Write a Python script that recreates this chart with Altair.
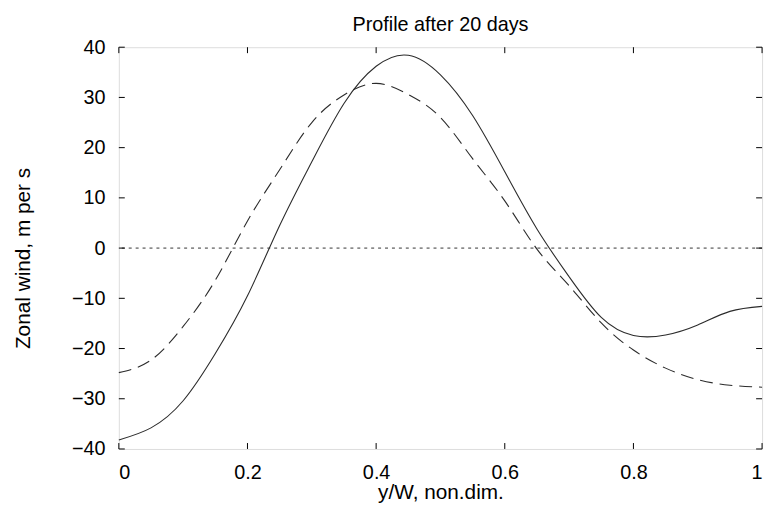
import altair as alt
import pandas as pd

# ---- data ----
x_vals = [0.0, 0.05, 0.10, 0.15, 0.20, 0.25, 0.30, 0.35, 0.40, 0.45, 0.50,
          0.55, 0.60, 0.65, 0.70, 0.75, 0.80, 0.85, 0.90, 0.95, 1.00]
wind_dashed = [-24.8, -22.3, -15.6, -6.4, 5.4, 15.6, 25.0, 30.5, 32.8, 30.6, 26.0,
               17.8, 9.4, -0.2, -7.5, -14.9, -20.3, -23.9, -26.2, -27.3, -27.7]
wind_solid = [-38.2, -35.8, -30.4, -21.0, -9.5, 4.5, 17.2, 28.8, 36.2, 38.4, 34.5,
              26.4, 15.2, 3.8, -5.7, -13.8, -17.4, -17.3, -15.3, -12.6, -11.6]
x_ticks = [0, 0.2, 0.4, 0.6, 0.8, 1.0]
y_ticks = [-40, -30, -20, -10, 0, 10, 20, 30, 40]
zero_level = [0]

FONT = "Liberation Sans"
W, H = 650, 406
TICK = 6

df_dashed = pd.DataFrame({"x": x_vals, "wind": wind_dashed})
df_solid = pd.DataFrame({"x": x_vals, "wind": wind_solid})
df_xt = pd.DataFrame({"t": x_ticks})
df_yt = pd.DataFrame({"t": y_ticks})
df_zero = pd.DataFrame({"v": zero_level})

xs = alt.Scale(domain=[0, 1], nice=False, zero=False)
ys = alt.Scale(domain=[-40, 40], nice=False, zero=False)

x_axis = alt.Axis(values=x_ticks, format="~g", ticks=False, domain=False, grid=False,
                  labelFont=FONT, labelFontSize=20, labelColor="black", labelPadding=14,
                  title="y/W, non.dim.", titleFont=FONT, titleFontSize=21,
                  titleFontWeight="normal", titleColor="black",
                  titleBaseline="alphabetic", titleY=50)
y_axis = alt.Axis(values=y_ticks, format="d", ticks=False, domain=False, grid=False,
                  labelFont=FONT, labelFontSize=20, labelColor="black", labelPadding=14,
                  title="Zonal wind, m per s", titleFont=FONT, titleFontSize=21,
                  titleFontWeight="normal", titleColor="black", titleAngle=-90,
                  titleAlign="center", titleBaseline="alphabetic",
                  titleX=-90, titleY=H / 2 + 10)

X = lambda f: alt.X(f, scale=xs, axis=x_axis)
Y = lambda f: alt.Y(f, scale=ys, axis=y_axis)

dashed = alt.Chart(df_dashed).mark_line(
    color="#2b2b2b", strokeWidth=1.1, strokeDash=[13, 7], interpolate="natural"
).encode(x=X("x:Q"), y=Y("wind:Q"))

solid = alt.Chart(df_solid).mark_line(
    color="#2b2b2b", strokeWidth=1.1, interpolate="natural"
).encode(x=X("x:Q"), y=Y("wind:Q"))

zero = alt.Chart(df_zero).mark_rule(
    color="#333333", strokeWidth=1, strokeDash=[3, 4]
).encode(y=Y("v:Q"))

tick_bottom = alt.Chart(df_xt).mark_rule(color="black").encode(
    x=X("t:Q"), y=alt.value(H), y2=alt.value(H - TICK))
tick_top = alt.Chart(df_xt).mark_rule(color="black").encode(
    x=X("t:Q"), y=alt.value(0), y2=alt.value(TICK))
tick_left = alt.Chart(df_yt).mark_rule(color="black").encode(
    y=Y("t:Q"), x=alt.value(0), x2=alt.value(TICK))
tick_right = alt.Chart(df_yt).mark_rule(color="black").encode(
    y=Y("t:Q"), x=alt.value(W), x2=alt.value(W - TICK))

chart = alt.layer(
    zero, tick_bottom, tick_top, tick_left, tick_right, dashed, solid
).properties(
    width=W, height=H,
    title=alt.TitleParams("Profile after 20 days", font=FONT, fontSize=20,
                          fontWeight="normal", color="black", anchor="middle",
                          frame="group", baseline="alphabetic", offset=-14),
    autosize=alt.AutoSizeParams(type="none"),
    padding={"left": 112, "top": 37, "right": 7, "bottom": 55},
).configure_view(
    stroke="black", strokeWidth=1
).configure(background="white")

chart.save("out.html", embed_options={"renderer": "svg", "actions": False})
